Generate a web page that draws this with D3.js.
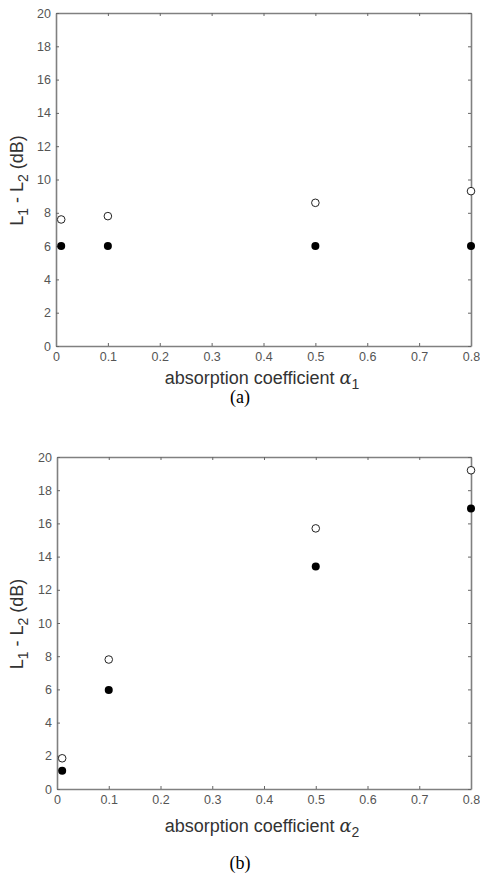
<!DOCTYPE html>
<meta charset="utf-8">
<style>
body { margin: 0; background: #fff; }
svg { display: block; }
.tick text { font-family: Arial, "Liberation Sans", sans-serif; font-size: 12.5px; fill: #555; }
.axlabel { font-family: Arial, "Liberation Sans", sans-serif; font-size: 18px; fill: #333; }
.cap { font-family: "Times New Roman", "Liberation Serif", serif; font-size: 18px; fill: #000; }
</style>
<svg width="480" height="884"></svg>
<script src="https://d3js.org/d3.v7.min.js"></script>
<script>

// absorption coefficients on the x axis
var alphas = [0.01, 0.1, 0.5, 0.8];

// (a) varying alpha 1
var openA = [7.6, 7.8, 8.6, 9.3];
var fillA = [6.0, 6.0, 6.0, 6.0];

// (b) varying alpha 2
var openB = [1.85, 7.8, 15.7, 19.2];
var fillB = [1.1, 5.97, 13.4, 16.9];

var xTicks = [0, 0.1, 0.2, 0.3, 0.4, 0.5, 0.6, 0.7, 0.8];
var yTicks = [0, 2, 4, 6, 8, 10, 12, 14, 16, 18, 20];

var svg = d3.select("svg");
var axisCol = "#808080";

function panel(box, open, filled, sub, caption, xlY, capY) {
  var x = d3.scaleLinear().domain([0, 0.8]).range([box.left, box.right]);
  var y = d3.scaleLinear().domain([0, 20]).range([box.bottom, box.top]);
  var g = svg.append("g");

  // box frame with inward ticks on all four sides
  g.append("g").attr("transform", "translate(0," + box.bottom + ")")
    .call(d3.axisBottom(x).tickValues(xTicks).tickSizeInner(-3).tickSizeOuter(0).tickPadding(6)
      .tickFormat(d => d === 0 ? "0" : d3.format(".1f")(d)));
  g.append("g").attr("transform", "translate(0," + box.top + ")")
    .call(d3.axisTop(x).tickValues(xTicks).tickSizeInner(-3).tickSizeOuter(0).tickFormat(""));
  g.append("g").attr("transform", "translate(" + box.left + ",0)")
    .call(d3.axisLeft(y).tickValues(yTicks).tickSizeInner(-3).tickSizeOuter(0).tickPadding(5));
  g.append("g").attr("transform", "translate(" + box.right + ",0)")
    .call(d3.axisRight(y).tickValues(yTicks).tickSizeInner(-3).tickSizeOuter(0).tickFormat(""));

  g.selectAll(".domain").attr("stroke", axisCol).attr("stroke-width", 1.6);
  g.selectAll(".tick line").attr("stroke", "#666").attr("stroke-width", 1);

  g.selectAll("circle.f").data(alphas).join("circle")
    .attr("class", "f")
    .attr("cx", d => x(d))
    .attr("cy", (d, i) => y(filled[i]))
    .attr("r", 4)
    .attr("fill", "#000");

  g.selectAll("circle.o").data(alphas).join("circle")
    .attr("class", "o")
    .attr("cx", d => x(d))
    .attr("cy", (d, i) => y(open[i]))
    .attr("r", 3.8)
    .attr("fill", "#fff")
    .attr("stroke", "#222")
    .attr("stroke-width", 1);

  // x label
  var xl = g.append("text").attr("class", "axlabel")
    .attr("x", 262).attr("y", xlY).attr("text-anchor", "middle");
  xl.append("tspan").text("absorption coefficient ");
  xl.append("tspan").attr("font-family", "'DejaVu Serif', serif").attr("font-style", "italic").text("α");
  xl.append("tspan").attr("dy", 5).attr("font-size", 14).text(sub);

  // y label, rotated
  var yl = g.append("text").attr("class", "axlabel")
    .attr("transform", "translate(23," + ((box.top + box.bottom) / 2 + 1) + ") rotate(-90)")
    .attr("text-anchor", "middle");
  yl.append("tspan").text("L");
  yl.append("tspan").attr("dy", 5).attr("font-size", 14).text("1");
  yl.append("tspan").attr("dy", -5).text(" - L");
  yl.append("tspan").attr("dy", 5).attr("font-size", 14).text("2");
  yl.append("tspan").attr("dy", -5).text(" (dB)");

  svg.append("text").attr("class", "cap")
    .attr("x", 240).attr("y", capY).attr("text-anchor", "middle").text(caption);
}

panel({left: 56, right: 471, top: 13, bottom: 346}, openA, fillA, "1", "(a)", 384, 403);
panel({left: 57, right: 471, top: 457, bottom: 789}, openB, fillB, "2", "(b)", 832, 869);

</script>
